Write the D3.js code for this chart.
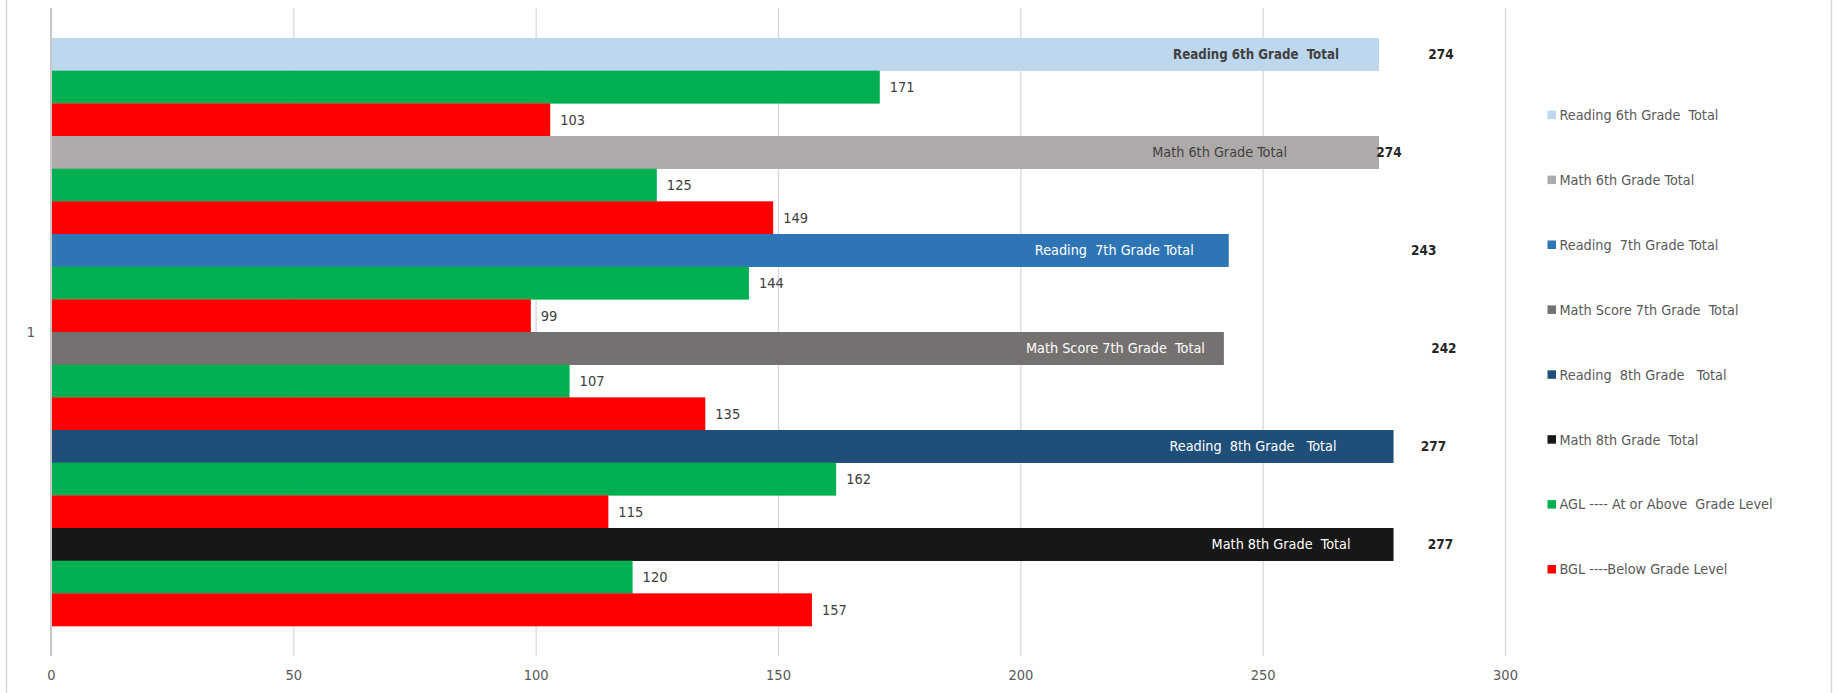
<html>
  <head>
    <meta charset="utf-8">
    <title>Grade level totals</title>
    <style>
      body { margin: 0; background: #fff; }
      text { font-family: "Liberation Sans Narrow", "DejaVu Sans Condensed", Arial, sans-serif; white-space: pre; }
      .tick text { fill: #595959; font-size: 14.5px; }
      .legend text { fill: #595959; font-size: 14.3px; }
      .val { fill: #404040; font-size: 14.5px; }
    </style>
    <script src="https://d3js.org/d3.v7.min.js"></script>
  </head>
  <body>
    <svg id="chart" width="1837" height="693"></svg>
    <script>
      // one category, 18 bars listed top to bottom
      var category = "1"
      var seriesNames = ["Reading 6th Grade  Total", "AGL ---- At or Above  Grade Level", "BGL ----Below Grade Level",
                         "Math 6th Grade Total", "AGL ---- At or Above  Grade Level", "BGL ----Below Grade Level",
                         "Reading  7th Grade Total", "AGL ---- At or Above  Grade Level", "BGL ----Below Grade Level",
                         "Math Score 7th Grade  Total", "AGL ---- At or Above  Grade Level", "BGL ----Below Grade Level",
                         "Reading  8th Grade   Total", "AGL ---- At or Above  Grade Level", "BGL ----Below Grade Level",
                         "Math 8th Grade  Total", "AGL ---- At or Above  Grade Level", "BGL ----Below Grade Level"]
      var values = [274, 171, 103,
                    274, 125, 149,
                    243, 144, 99,
                    242, 107, 135,
                    277, 162, 115,
                    277, 120, 157]
      var isTotal = [1, 0, 0, 1, 0, 0, 1, 0, 0, 1, 0, 0, 1, 0, 0, 1, 0, 0]
      var xTicks = [0, 50, 100, 150, 200, 250, 300]
      var legendNames = ["Reading 6th Grade  Total", "Math 6th Grade Total", "Reading  7th Grade Total",
                         "Math Score 7th Grade  Total", "Reading  8th Grade   Total", "Math 8th Grade  Total",
                         "AGL ---- At or Above  Grade Level", "BGL ----Below Grade Level"]

      // styling per total bar (Excel labels were dragged by hand)
      var totalStyle = [
        {fill: "#BDD7EE", text: "#404040", bold: true,  nameDx: -40, valDx: 62},
        {fill: "#AEAAAA", text: "#404040", bold: false, nameDx: -92, valDx: 10},
        {fill: "#2E75B6", text: "#ffffff", bold: false, nameDx: -35, valDx: 195},
        {fill: "#767171", text: "#ffffff", bold: false, nameDx: -19, valDx: 220},
        {fill: "#1F4E79", text: "#ffffff", bold: false, nameDx: -57, valDx: 40},
        {fill: "#171717", text: "#ffffff", bold: false, nameDx: -43, valDx: 47}
      ]
      var aglColor = "#00B050", bglColor = "#FF0000"
      var legendColors = totalStyle.map(d => d.fill).concat([aglColor, bglColor])

      var svg = d3.select("#chart")
      var plot = {left: 51, right: 1505, top: 8, bottom: 656}

      // frame
      svg.append("line").attr("x1", 6.5).attr("x2", 6.5).attr("y1", 0).attr("y2", 693)
         .attr("stroke", "#d9d9d9").attr("stroke-width", 1.5)
      svg.append("line").attr("x1", 1831.5).attr("x2", 1831.5).attr("y1", 0).attr("y2", 693)
         .attr("stroke", "#d9d9d9").attr("stroke-width", 1.5)

      var x = d3.scaleLinear().domain([0, 300]).range([plot.left, plot.right])
      var y0 = d3.scaleBand().domain([category]).range([plot.top, plot.bottom]).paddingOuter(0.051)
      var y1 = d3.scaleBand().domain(d3.range(values.length)).range([0, y0.bandwidth()])

      // gridlines + tick labels
      var xAxis = d3.axisBottom(x).tickValues(xTicks).tickSize(-(plot.bottom - plot.top)).tickPadding(12)
      var gx = svg.append("g").attr("transform", "translate(0," + plot.bottom + ")").call(xAxis)
      gx.select(".domain").remove()
      gx.selectAll(".tick line").attr("stroke", "#d9d9d9").attr("stroke-width", 1.3)
      gx.selectAll(".tick text").attr("dy", "0.71em").attr("y", 14)

      // category label
      var yAxis = d3.axisLeft(y0).tickSize(0).tickPadding(16)
      var gy = svg.append("g").attr("transform", "translate(" + plot.left + ",0)").call(yAxis)
      gy.select(".domain").remove()

      var bars = svg.append("g").attr("transform", "translate(0," + y0(category) + ")")
      var ti = 0
      var rows = values.map(function(v, i){
        var style
        if(isTotal[i]){ style = totalStyle[ti++] }
        return {i: i, v: v, name: seriesNames[i], total: isTotal[i], style: style,
                fill: isTotal[i] ? style.fill : (seriesNames[i].startsWith("AGL") ? aglColor : bglColor)}
      })

      bars.selectAll("rect").data(rows).join("rect")
          .attr("x", x(0))
          .attr("y", d => y1(d.i))
          .attr("width", d => x(d.v) - x(0))
          .attr("height", y1.bandwidth() + 0.3)
          .attr("fill", d => d.fill)

      // axis line on top of bars
      svg.append("line").attr("x1", x(0)).attr("x2", x(0)).attr("y1", plot.top).attr("y2", plot.bottom)
         .attr("stroke", "#c8c8c8").attr("stroke-width", 2)

      // outside value labels for AGL / BGL
      bars.selectAll("text.val").data(rows.filter(d => !d.total)).join("text")
          .attr("class", "val")
          .attr("x", d => x(d.v) + 10)
          .attr("y", d => y1(d.i) + y1.bandwidth() / 2)
          .attr("dy", "0.35em")
          .text(d => d.v)

      // totals: series name inside, bold value outside
      var totals = rows.filter(d => d.total)
      bars.selectAll("text.name").data(totals).join("text")
          .attr("class", "name")
          .attr("x", d => x(d.v) + d.style.nameDx)
          .attr("y", d => y1(d.i) + y1.bandwidth() / 2)
          .attr("dy", "0.35em")
          .attr("text-anchor", "end")
          .attr("font-size", d => d.style.bold ? 13.2 : 14.3)
          .attr("font-weight", d => d.style.bold ? "bold" : "normal")
          .attr("fill", d => d.style.text)
          .text(d => d.name)
      bars.selectAll("text.tot").data(totals).join("text")
          .attr("class", "tot")
          .attr("x", d => x(d.v) + d.style.valDx)
          .attr("y", d => y1(d.i) + y1.bandwidth() / 2)
          .attr("dy", "0.35em")
          .attr("text-anchor", "middle")
          .attr("font-size", 13.5)
          .attr("font-weight", "bold")
          .attr("fill", "#262626")
          .text(d => d.v)

      // legend
      var legend = svg.append("g").attr("class", "legend")
      var item = legend.selectAll("g").data(legendNames).join("g")
          .attr("transform", (d, i) => "translate(1547.5," + (115 + i * 64.9) + ")")
      item.append("rect").attr("x", 0).attr("y", -4.3).attr("width", 8.5).attr("height", 8.5)
          .attr("fill", (d, i) => legendColors[i])
      item.append("text").attr("x", 12).attr("dy", "0.35em").text(d => d)
    </script>
  </body>
</html>
